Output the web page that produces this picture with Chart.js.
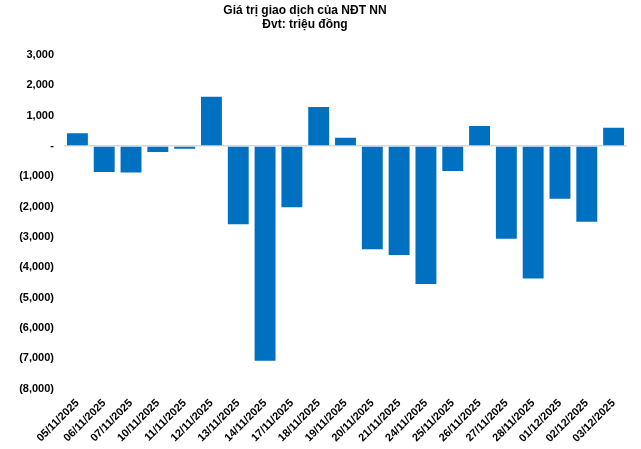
<!DOCTYPE html>
<html>
<head>
<meta charset="utf-8">
<script src="https://cdn.jsdelivr.net/npm/chart.js@4/dist/chart.umd.min.js"></script>
<style>
  html, body { margin: 0; padding: 0; background: #fff; }
  #wrap { width: 641px; height: 449px; position: relative; }
</style>
</head>
<body>
<div id="wrap"><canvas id="chart"></canvas></div>
<script>
// ── Data ──────────────────────────────────────────────
const dates = [
  '05/11/2025', '06/11/2025', '07/11/2025', '10/11/2025', '11/11/2025',
  '12/11/2025', '13/11/2025', '14/11/2025', '17/11/2025', '18/11/2025',
  '19/11/2025', '20/11/2025', '21/11/2025', '24/11/2025', '25/11/2025',
  '26/11/2025', '27/11/2025', '28/11/2025', '01/12/2025', '02/12/2025',
  '03/12/2025'
];
const netValues = [
  420, -860, -870, -200, -90,
  1620, -2580, -7080, -2020, 1290,
  270, -3400, -3590, -4550, -820,
  660, -3060, -4370, -1740, -2500,
  600
];
const titleLines = ['Giá trị giao dịch của NĐT NN', 'Đvt: triệu đồng'];
const yMin = -8000;
const yMax = 3000;
const yStep = 1000;

function formatTick(v) {
  if (v === 0) return '-';
  const s = Math.abs(v).toLocaleString('en-US');
  return v < 0 ? '(' + s + ')' : s;
}

Chart.defaults.font.family = '"Liberation Sans", Arial, sans-serif';
Chart.defaults.color = '#000000';

// title drawn by hand so it can sit slightly left of centre, as in the source
const titlePlugin = {
  id: 'twoLineTitle',
  afterDraw: function(chart) {
    const ctx = chart.ctx;
    ctx.save();
    ctx.font = 'bold 12px "Liberation Sans", Arial, sans-serif';
    ctx.fillStyle = '#000';
    ctx.textAlign = 'center';
    ctx.textBaseline = 'middle';
    ctx.fillText(titleLines[0], 305, 11);
    ctx.fillText(titleLines[1], 305, 25);
    ctx.restore();
  }
};

new Chart(document.getElementById('chart'), {
  type: 'bar',
  data: {
    labels: dates,
    datasets: [{
      data: netValues,
      backgroundColor: '#0070C0',
      borderWidth: 0,
      categoryPercentage: 1,
      barPercentage: 0.78,
    }]
  },
  plugins: [titlePlugin],
  options: {
    responsive: true,
    maintainAspectRatio: false,
    animation: false,
    layout: { padding: { left: 0, right: 14, top: 55, bottom: 4 } },
    plugins: {
      legend: { display: false },
      tooltip: { enabled: false },
      title: { display: false },
    },
    scales: {
      x: {
        grid: { display: false },
        border: { display: false },
        ticks: {
          font: { size: 11, weight: 'bold' },
          minRotation: 45,
          maxRotation: 45,
          autoSkip: false,
          padding: 0,
        },
      },
      y: {
        min: yMin,
        max: yMax,
        border: { display: false },
        grid: {
          drawTicks: false,
          color: function(c) { return c.tick && c.tick.value === 0 ? '#d9d9d9' : 'rgba(0,0,0,0)'; },
          lineWidth: 1.5,
        },
        ticks: {
          stepSize: yStep,
          font: { size: 11, weight: 'bold' },
          padding: 10,
          callback: function(v) { return formatTick(v); },
        },
        afterFit: function(scale) { scale.width = 64; },
      },
    },
  },
});
</script>
</body>
</html>
